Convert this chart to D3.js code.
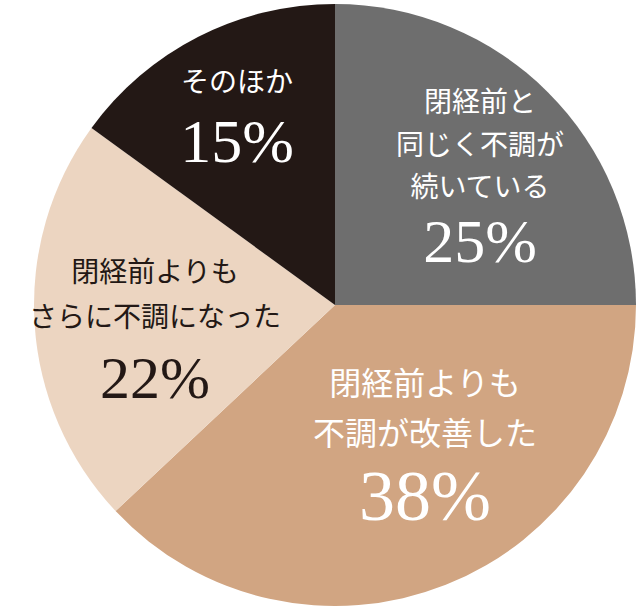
<!DOCTYPE html>
<html><head><meta charset="utf-8">
<script src="https://cdn.jsdelivr.net/npm/d3@7"></script>
<style>body{margin:0;background:#fff}</style></head>
<body><svg id="c" width="640" height="611"></svg>
<script>
const categories = ["閉経前と同じく不調が続いている","閉経前よりも不調が改善した","閉経前よりもさらに不調になった","そのほか"];
const values = [25, 38, 22, 15];
const colors = ["#6e6e6e","#d1a582","#ecd5c1","#231815"];
const labelLines = [["閉経前と","同じく不調が","続いている"],["閉経前よりも","不調が改善した"],["閉経前よりも","さらに不調になった"],["そのほか"]];
const textColors = ["#fff","#fff","#231815","#fff"];
const labelPos = [[480,[112,155,197],262,62],[425,[395,445],520,72],[155,[282,327],398,60],[237,[92],162,62]];

const svg = d3.select("#c");
const cx=335, cy=305, r=301;
const g = svg.append("g").attr("transform",`translate(${cx},${cy})`);
const pie = d3.pie().sort(null).value(d=>d)(values);
const arc = d3.arc().innerRadius(0).outerRadius(r);
g.selectAll("path").data(pie).join("path").attr("d",arc).attr("fill",(d,i)=>colors[i]);

labelPos.forEach((p,i)=>{
  labelLines[i].forEach((t,j)=>{
    svg.append("text").attr("x",p[0]).attr("y",p[1][j]).attr("text-anchor","middle")
      .attr("font-family","Noto Sans CJK JP").attr("font-size",i==1?32:28).attr("fill",textColors[i]).text(t);
  });
  svg.append("text").attr("x",p[0]).attr("y",p[2]).attr("text-anchor","middle")
    .attr("font-family","Liberation Serif").attr("font-size",p[3]).attr("fill",textColors[i]).text(values[i]+"%");
});
</script></body></html>
